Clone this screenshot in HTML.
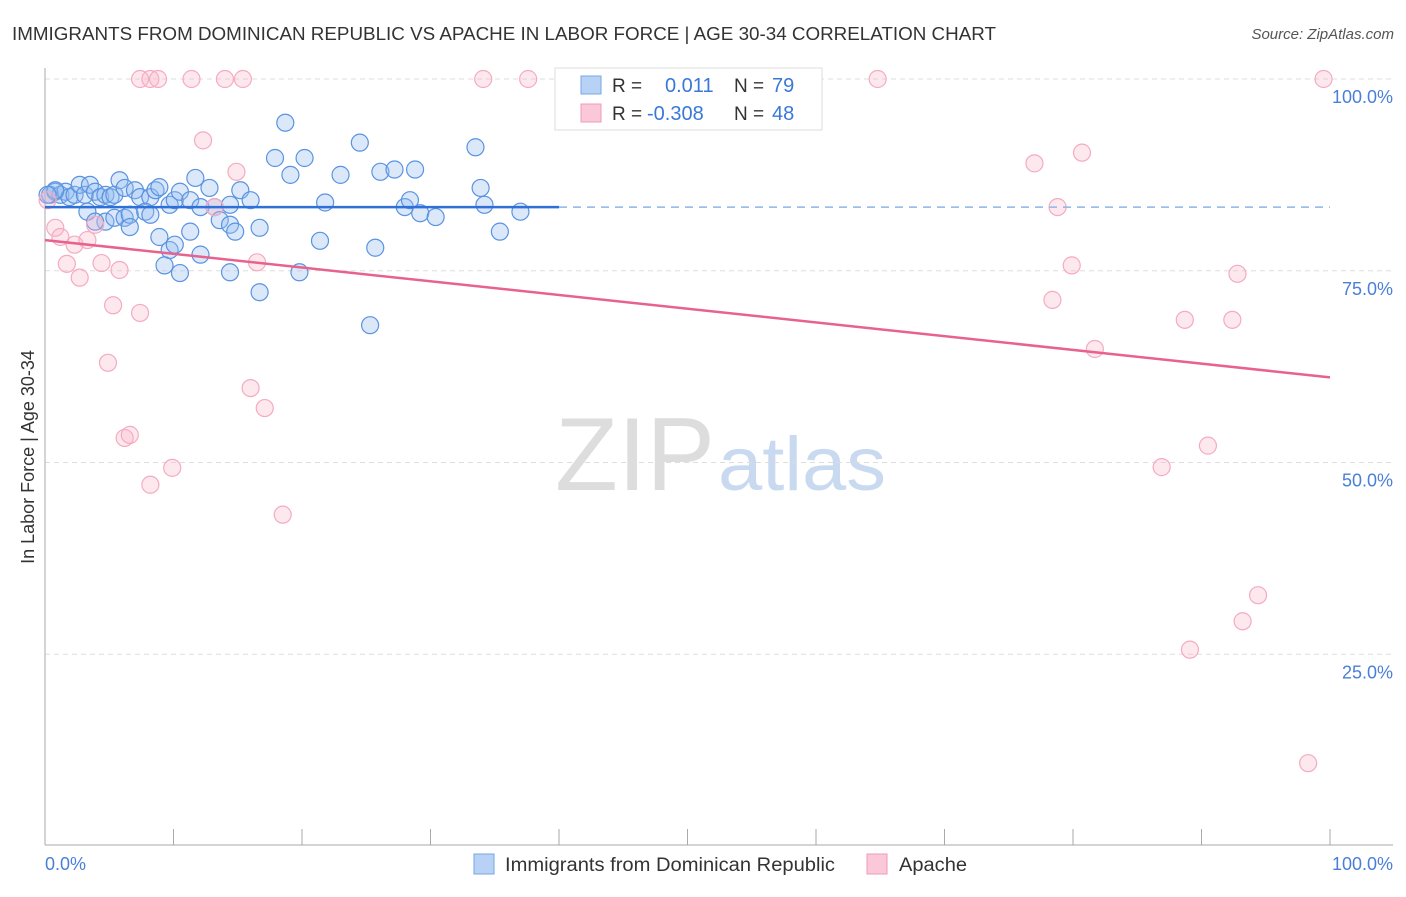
<!DOCTYPE html>
<html><head><meta charset="utf-8"><style>
body{margin:0;background:#fff;font-family:"Liberation Sans",sans-serif}
svg text{font-family:"Liberation Sans",sans-serif}
</style></head><body>
<svg id="c" width="1406" height="892">
<text x="12" y="40" font-size="18" fill="#333" textLength="984" lengthAdjust="spacingAndGlyphs">IMMIGRANTS FROM DOMINICAN REPUBLIC VS APACHE IN LABOR FORCE | AGE 30-34 CORRELATION CHART</text>
<text x="1394" y="39" font-size="15" fill="#555" font-style="italic" text-anchor="end">Source: ZipAtlas.com</text>
<text x="555" y="490" font-size="104" fill="#ddd" textLength="160" lengthAdjust="spacingAndGlyphs" font-family="Liberation Serif">ZIP</text>
<text x="718" y="490" font-size="76" fill="#c9daf0" textLength="168" lengthAdjust="spacingAndGlyphs">atlas</text>
<g id="grid"></g>
<g id="axes"></g>
<g id="marks"></g>
<text transform="translate(34,457) rotate(-90)" font-size="18" fill="#333" text-anchor="middle">In Labor Force | Age 30-34</text>
<text x="45" y="870" font-size="18" fill="#4a7fd8">0.0%</text>
<text x="1393" y="870" font-size="18" fill="#4a7fd8" text-anchor="end">100.0%</text>
<g>
<rect x="555" y="68" width="267" height="62" fill="#fff" stroke="#ddd"/>
<rect x="581" y="76" width="20" height="18" fill="#b8d2f5" stroke="#7aa6e6"/>
<rect x="581" y="104" width="20" height="18" fill="#fac8d8" stroke="#f09ab5"/>
<text x="612" y="92" font-size="19" fill="#333">R =</text><text x="665" y="92" font-size="20" fill="#3a78d8">0.011</text>
<text x="734" y="92" font-size="19" fill="#333">N =</text><text x="772" y="92" font-size="20" fill="#3a78d8">79</text>
<text x="612" y="120" font-size="19" fill="#333">R =</text><text x="647" y="120" font-size="20" fill="#3a78d8">-0.308</text>
<text x="734" y="120" font-size="19" fill="#333">N =</text><text x="772" y="120" font-size="20" fill="#3a78d8">48</text>
</g>
<g><rect x="474" y="854" width="20" height="20" fill="#b8d2f5" stroke="#7aa6e6"/><text x="505" y="871" font-size="19" fill="#333" textLength="330" lengthAdjust="spacingAndGlyphs">Immigrants from Dominican Republic</text></g>
<g><rect x="867" y="854" width="20" height="20" fill="#fac8d8" stroke="#f09ab5"/><text x="899" y="871" font-size="19" fill="#333" textLength="68" lengthAdjust="spacingAndGlyphs">Apache</text></g>
</svg>
<script>
const blueX=[0.4,0.8,1.2,1.6,1.9,2.3,2.7,3.1,3.5,3.9,4.3,4.7,5.1,5.4,3.3,5.8,6.2,7.0,7.4,8.2,8.6,8.9,9.7,10.1,10.5,11.3,11.7,12.1,12.8,13.2,14.4,15.2,16.0,4.7,5.4,6.2,6.6,7.8,8.2,6.6,8.9,9.7,10.1,11.3,12.1,13.6,14.4,14.8,16.7,9.3,10.5,14.4,16.7,18.7,17.9,19.1,20.2,21.8,23.0,21.4,19.8,24.5,26.1,27.2,25.7,25.3,28.0,28.8,28.4,29.2,30.4,33.5,33.9,34.2,35.4,37.0,3.9,0.8,0.2];
const blueY=[84.9,85.3,84.9,85.3,84.6,84.9,86.2,84.9,86.2,85.3,84.6,84.9,84.6,84.9,82.7,86.8,85.8,85.5,84.6,84.6,85.5,85.9,83.6,84.2,85.3,84.2,87.1,83.3,85.8,83.3,83.6,85.5,84.2,81.4,81.9,81.9,82.3,82.7,82.3,80.7,79.4,77.7,78.4,80.1,77.1,81.6,81.0,80.1,80.6,75.7,74.7,74.8,72.2,94.3,89.7,87.5,89.7,83.9,87.5,78.9,74.8,91.7,87.9,88.2,78.0,67.9,83.3,88.2,84.2,82.5,82.0,91.1,85.8,83.6,80.1,82.7,81.4,85.5,84.9];
const pinkX=[7.4,8.2,8.8,11.4,14.0,15.4,34.1,37.6,64.8,99.5,0.2,0.8,1.2,1.7,2.3,2.7,3.3,3.9,4.4,5.3,5.8,4.9,6.2,6.6,7.4,8.2,9.9,12.3,13.2,14.9,16.0,16.5,17.1,18.5,77.0,78.8,80.7,79.9,78.4,81.7,88.7,92.4,92.8,90.5,86.9,94.4,93.2,89.1,98.3];
const pinkY=[100,100,100,100,100,100,100,100,100,100,84.2,80.6,79.4,75.9,78.4,74.1,79.0,81.0,76.0,70.5,75.1,63.0,53.2,53.6,69.5,47.1,49.3,92.0,83.3,87.9,59.7,76.1,57.1,43.2,89.0,83.3,90.4,75.7,71.2,64.8,68.6,68.6,74.6,52.2,49.4,32.7,29.3,25.6,10.8];
const blueTrend=[83.3,83.3];
const pinkTrend=[79.0,61.1];
const yTicks=[100,75,50,25];
const yTickLabels=["100.0%","75.0%","50.0%","25.0%"];
const xTicks=[10,20,30,40,50,60,70,80,90,100];
const NS="http://www.w3.org/2000/svg";
const sx=v=>45+v*12.85, sy=v=>846-v*7.67;
function mk(t,a,p){const e=document.createElementNS(NS,t);for(const k in a)e.setAttribute(k,a[k]);p.appendChild(e);return e;}
const grid=document.getElementById('grid'),axes=document.getElementById('axes'),marks=document.getElementById('marks');
yTicks.forEach((v,i)=>{
 const l=mk('line',{x1:45,x2:1393,y1:sy(v),y2:sy(v),stroke:'#ddd','stroke-dasharray':'5,4'},grid);
 
 
 const t=mk('text',{x:1393,y:sy(v)+24,'font-size':18,fill:'#4a7fd8','text-anchor':'end'},axes);t.textContent=yTickLabels[i];
 
 
});
const ya=mk('line',{x1:45,x2:45,y1:68,y2:845,stroke:'#aaa'},axes);


const xa=mk('line',{x1:45,x2:1393,y1:845,y2:845,stroke:'#aaa'},axes);


xTicks.forEach(v=>{const l=mk('line',{x1:sx(v),x2:sx(v),y1:829,y2:845,stroke:'#aaa'},axes);
 
 });
blueX.forEach((x,i)=>{const c=mk('circle',{cx:sx(x),cy:sy(blueY[i]),r:8.5,fill:'rgba(150,190,240,0.35)',stroke:'#5a93e0','stroke-width':1.2},marks);
 
 });
pinkX.forEach((x,i)=>{const c=mk('circle',{cx:sx(x),cy:sy(pinkY[i]),r:8.5,fill:'rgba(248,180,200,0.3)',stroke:'#f5aac2','stroke-width':1.2},marks);
 
 });
const b1=mk('line',{x1:sx(0),x2:sx(40),y1:sy(blueTrend[0]),y2:sy(blueTrend[0]+(blueTrend[1]-blueTrend[0])*0.4),stroke:'#2f6fd8','stroke-width':2.5},marks);


const b2=mk('line',{x1:sx(40),x2:sx(100),y1:sy(blueTrend[0]+(blueTrend[1]-blueTrend[0])*0.4),y2:sy(blueTrend[1]),stroke:'#8fb4ea','stroke-width':1.5,'stroke-dasharray':'8,6'},marks);


const p1=mk('line',{x1:sx(0),x2:sx(100),y1:sy(pinkTrend[0]),y2:sy(pinkTrend[1]),stroke:'#e8628e','stroke-width':2.5},marks);


</script>
</body></html>
